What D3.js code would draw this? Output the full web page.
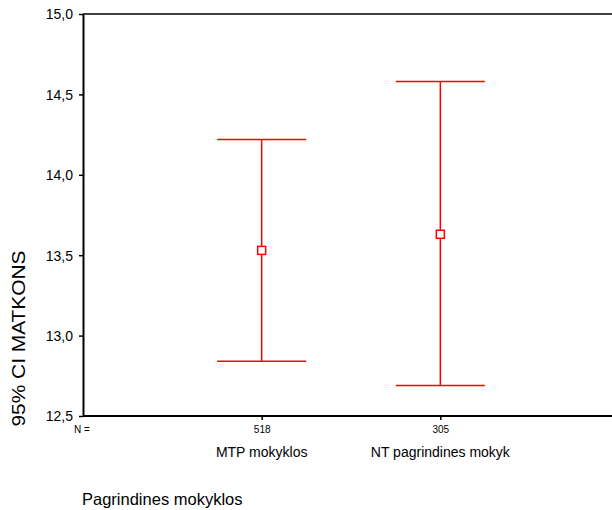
<!DOCTYPE html>
<html>
<head>
<meta charset="utf-8">
<script src="https://cdn.jsdelivr.net/npm/d3@7"></script>
<style>
  html, body { margin: 0; padding: 0; background: #fff; }
  svg { display: block; font-family: "Liberation Sans", Arial, sans-serif; }
</style>
</head>
<body>
<svg id="chart" width="612" height="510"></svg>
<script>
const categories = ["MTP mokyklos", "NT pagrindines mokyk"];
const nValues = [518, 305];
const means = [13.53, 13.63];
const lower = [12.84, 12.69];
const upper = [14.22, 14.58];
const yTicks = [12.5, 13.0, 13.5, 14.0, 14.5, 15.0];
const yLabel = "95% CI MATKONS";
const xTitle = "Pagrindines mokyklos";

(function () {
const svg = d3.select("#chart");
const plotLeft = 83, plotTop = 14, plotBottom = 416, rightEnd = 619;

const y = d3.scaleLinear().domain([12.5, 15]).range([plotBottom, plotTop]);
const x = d3.scalePoint().domain(categories).range([plotLeft, rightEnd]).padding(1);

const fmt = v => d3.format(".1f")(v).replace(".", ",");

// Y axis
const yAxis = svg.append("g")
  .attr("transform", `translate(${plotLeft},0)`)
  .call(d3.axisLeft(y).tickValues(yTicks).tickSize(4).tickSizeOuter(0).tickPadding(6).tickFormat(fmt));
yAxis.select(".domain").attr("stroke", "#000").attr("stroke-width", 2);
yAxis.selectAll(".tick line").attr("stroke", "#000").attr("stroke-width", 1.5);
yAxis.selectAll(".tick text").attr("font-size", 14).attr("fill", "#000")
  .attr("font-family", "'Liberation Sans', Arial, sans-serif").attr("dy", "0.35em");

// X axis (N counts)
const xAxis = svg.append("g")
  .attr("transform", `translate(0,${plotBottom})`)
  .call(d3.axisBottom(x).tickSize(4).tickSizeOuter(0).tickPadding(6)
    .tickFormat(d => nValues[categories.indexOf(d)]));
xAxis.select(".domain").attr("d", `M${plotLeft},0H612`).attr("stroke", "#000").attr("stroke-width", 2);
xAxis.selectAll(".tick line").attr("stroke", "#000").attr("stroke-width", 1.5);
xAxis.selectAll(".tick text").attr("font-size", 10).attr("fill", "#000")
  .attr("font-family", "'Liberation Sans', Arial, sans-serif");

// top frame line
svg.append("line").attr("x1", plotLeft).attr("x2", 612).attr("y1", plotTop).attr("y2", plotTop)
  .attr("stroke", "#000").attr("stroke-width", 1.5);

// N = label
svg.append("text").attr("x", 74).attr("y", 433).attr("font-size", 10).text("N =");

// category labels
svg.selectAll(".cat").data(categories).enter().append("text")
  .attr("class", "cat")
  .attr("x", d => x(d)).attr("y", 457)
  .attr("text-anchor", "middle").attr("font-size", 14)
  .text(d => d);

// x title
svg.append("text").attr("x", 82).attr("y", 505).attr("font-size", 16.5).text(xTitle);

// y label
svg.append("text")
  .attr("transform", "translate(24.5,338.5) rotate(-90)")
  .attr("text-anchor", "middle").attr("font-size", 18.5)
  .attr("textLength", 176).attr("lengthAdjust", "spacingAndGlyphs")
  .text(yLabel);

// error bars
const capHalf = 44.5;
const g = svg.append("g").attr("stroke", "#ff0000").attr("stroke-width", 1.5).attr("fill", "none");
categories.forEach((c, i) => {
  const cx = x(c);
  g.append("line").attr("x1", cx).attr("x2", cx).attr("y1", y(upper[i])).attr("y2", y(lower[i]));
  g.append("line").attr("x1", cx - capHalf).attr("x2", cx + capHalf).attr("y1", y(upper[i])).attr("y2", y(upper[i]));
  g.append("line").attr("x1", cx - capHalf).attr("x2", cx + capHalf).attr("y1", y(lower[i])).attr("y2", y(lower[i]));
  g.append("rect").attr("x", cx - 4).attr("y", y(means[i]) - 4).attr("width", 8).attr("height", 8)
    .attr("fill", "#fff");
});
})();
</script>
</body>
</html>
